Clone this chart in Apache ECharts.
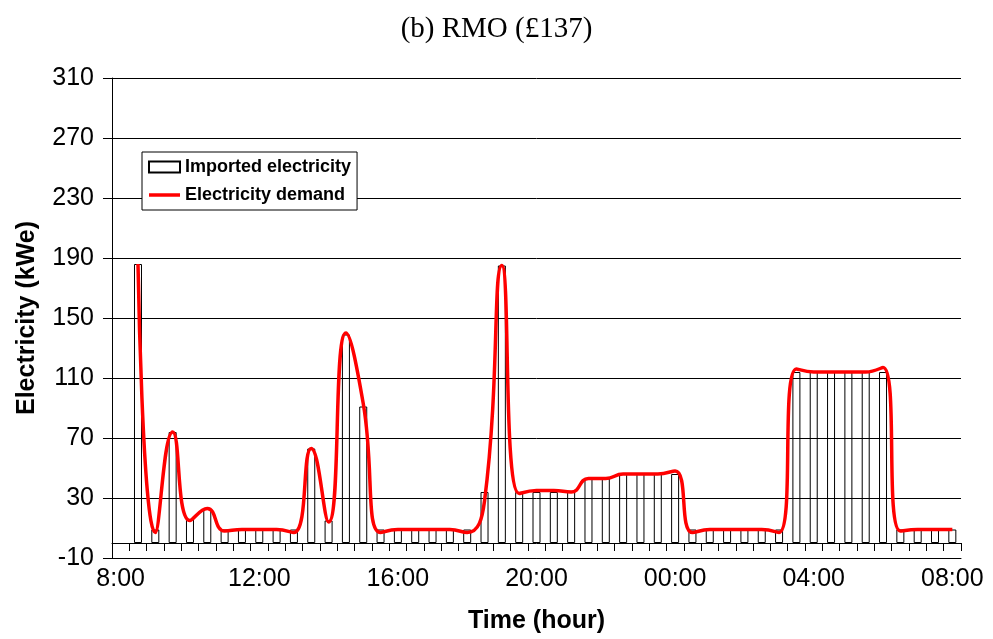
<!DOCTYPE html>
<html>
<head>
<meta charset="utf-8">
<script src="https://cdn.jsdelivr.net/npm/echarts@6/dist/echarts.min.js"></script>
<style>
  html, body { margin: 0; padding: 0; background: #fff; }
  #chart { width: 993px; height: 639px; }
</style>
</head>
<body>
<div id="chart"></div>
<script>
// Half-hourly time slots over one day, 8:00 to 08:00 the next morning
const timeLabels = [
  '8:00','8:30','9:00','9:30','10:00','10:30','11:00','11:30',
  '12:00','12:30','13:00','13:30','14:00','14:30','15:00','15:30',
  '16:00','16:30','17:00','17:30','18:00','18:30','19:00','19:30',
  '20:00','20:30','21:00','21:30','22:00','22:30','23:00','23:30',
  '00:00','00:30','01:00','01:30','02:00','02:30','03:00','03:30',
  '04:00','04:30','05:00','05:30','06:00','06:30','07:00','07:30',
  '08:00'
];

// Imported electricity (kWe) per slot
const importedElectricity = [
  null, 186, 9, 74, 16, 23, 9, 9,
  9, 9, 9, 63, 15, 139, 91, 9,
  9, 9, 9, 9, 9, 34, 185, 34,
  34, 34, 34, 43, 43, 46, 46, 46,
  46, 9, 9, 9, 9, 9, 9, 114,
  114, 114, 114, 114, 114, 9, 9, 9,
  9
];

// Electricity demand (kWe) per slot
const electricityDemand = [
  null, 186, 7, 74, 15, 23, 8, 9,
  9, 9, 7, 63, 14, 140, 93, 7,
  9, 9, 9, 9, 7, 28, 185, 33,
  35, 35, 34, 43, 43, 46, 46, 46,
  48, 7, 9, 9, 9, 9, 7, 116,
  114, 114, 114, 114, 117, 8, 9, 9,
  9
];

// Value axis range and step
const yMin = -10, yMax = 310, yStep = 40;

const sans = 'Liberation Sans, Arial, Helvetica, sans-serif';
const serif = 'Liberation Serif, Times New Roman, serif';

const chart = echarts.init(document.getElementById('chart'), null, { renderer: 'canvas' });

chart.setOption({
  animation: false,
  backgroundColor: '#fff',
  title: {
    text: '(b) RMO (£137)',
    left: 'center',
    top: 10,
    textStyle: { fontFamily: serif, fontWeight: 'normal', fontSize: 29, color: '#000' }
  },
  grid: { left: 112, right: 32, top: 78, bottom: 81, containLabel: false },
  legend: {
    orient: 'vertical',
    left: 142,
    top: 152,
    padding: [5, 6, 5, 6],
    itemGap: 8,
    itemWidth: 31,
    itemHeight: 11,
    backgroundColor: '#fff',
    borderColor: '#000',
    borderWidth: 1,
    borderRadius: 0,
    textStyle: { fontFamily: sans, fontWeight: 'bold', fontSize: 18, lineHeight: 20, color: '#000' },
    data: [
      { name: 'Imported electricity', icon: 'rect' },
      // plain red stroke for the demand curve
      { name: 'Electricity demand', icon: 'path://M0,0H31V3.5H0Z', itemStyle: { color: '#ff0000', borderWidth: 0 } }
    ]
  },
  xAxis: [
    {
      // slot axis sitting on the zero line
      type: 'category',
      data: timeLabels,
      boundaryGap: true,
      axisLine: { show: true, onZero: true, lineStyle: { color: '#000', width: 1 } },
      axisTick: { show: true, interval: 0, length: 8, lineStyle: { color: '#000', width: 1 } },
      axisLabel: { show: false },
      splitLine: { show: false }
    },
    {
      // time labels along the bottom edge
      type: 'category',
      data: timeLabels,
      position: 'bottom',
      boundaryGap: true,
      axisLine: { show: true, onZero: false, lineStyle: { color: '#000', width: 1 } },
      axisTick: { show: false },
      axisLabel: {
        interval: 7,
        margin: 9,
        fontFamily: sans,
        fontSize: 25,
        color: '#000'
      },
      splitLine: { show: false },
      name: 'Time (hour)',
      nameLocation: 'middle',
      nameGap: 51,
      nameTextStyle: { fontFamily: sans, fontWeight: 'bold', fontSize: 25, color: '#000' }
    }
  ],
  yAxis: {
    type: 'value',
    min: yMin,
    max: yMax,
    interval: yStep,
    name: 'Electricity (kWe)',
    nameLocation: 'middle',
    nameGap: 72,
    nameTextStyle: { fontFamily: sans, fontWeight: 'bold', fontSize: 25, color: '#000' },
    axisLine: { show: true, lineStyle: { color: '#000', width: 1 } },
    axisTick: { show: true, length: 9, lineStyle: { color: '#000', width: 1 } },
    axisLabel: { margin: 18, fontFamily: sans, fontSize: 25, color: '#000' },
    splitLine: { show: true, lineStyle: { color: '#000', width: 1 } }
  },
  series: [
    {
      name: 'Imported electricity',
      type: 'bar',
      xAxisIndex: 0,
      data: importedElectricity,
      barWidth: 8,
      itemStyle: { color: 'rgba(255,255,255,0)', borderColor: '#000', borderWidth: 1 },
      emphasis: { disabled: true }
    },
    {
      name: 'Electricity demand',
      type: 'line',
      xAxisIndex: 0,
      data: electricityDemand,
      smooth: 0.5,
      symbol: 'none',
      showSymbol: false,
      connectNulls: false,
      lineStyle: { color: '#ff0000', width: 3.5 },
      itemStyle: { color: '#ff0000' },
      z: 5
    }
  ]
});
</script>
</body>
</html>
